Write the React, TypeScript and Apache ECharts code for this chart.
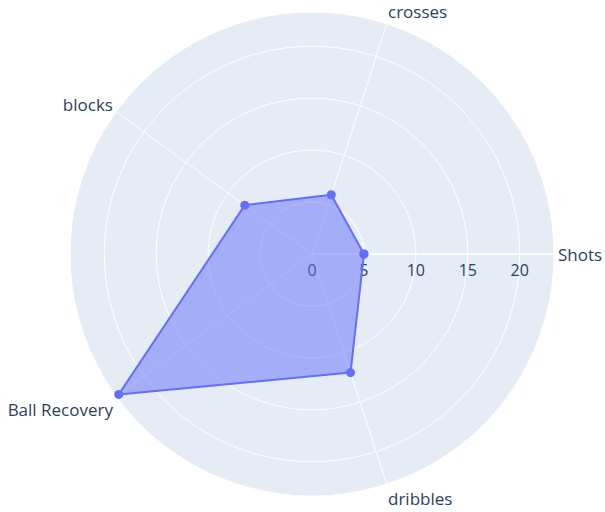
import React, { useEffect, useRef } from "react";
import * as echarts from "echarts";

const categories = ["Shots", "crosses", "blocks", "Ball Recovery", "dribbles"];
const values = [5, 6, 8, 23, 12];
const radialMax = 23.3;
const radialInterval = 5;

const CX = 312;
const CY = 254;
const R = 242;

export default function App() {
  const ref = useRef<HTMLDivElement>(null);
  useEffect(() => {
    const chart = echarts.init(ref.current!, null, { renderer: "svg" });
    const step = 360 / categories.length;
    const pts: any[] = values.map((v, i) => [v, i * step]);
    pts.push([values[0], 360]);
    const font = '"Open Sans", "Noto Sans", sans-serif';
    const pads: number[][] = [
      [0, 0, 0, 0],
      [0, 0, 0, 0],
      [0, 0, -4, 0],
      [2, 0, 0, 0],
      [2, 0, 0, 0],
    ];
    const rich: Record<string, any> = {};
    pads.forEach((p, i) => {
      rich["k" + i] = {
        padding: p,
        color: "#2a3f5f",
        fontSize: 17,
        fontFamily: font,
      };
    });
    chart.setOption({
      animation: false,
      backgroundColor: "#ffffff",
      graphic: [
        {
          type: "circle",
          z: -10,
          silent: true,
          shape: { cx: CX, cy: CY, r: R },
          style: { fill: "#E5ECF6" },
        },
      ],
      polar: { center: [CX, CY], radius: R },
      angleAxis: {
        type: "value",
        min: 0,
        max: 360,
        interval: step,
        startAngle: 0,
        clockwise: false,
        axisLine: { show: false },
        axisTick: { show: false },
        splitLine: { show: true, lineStyle: { color: "#ffffff", width: 1 } },
        axisLabel: {
          show: true,
          margin: 4,
          color: "#2a3f5f",
          fontSize: 17,
          fontFamily: font,
          rich,
          formatter: (v: number) => {
            if (v >= 360) return "";
            const i = Math.round(v / step);
            return "{k" + i + "|" + categories[i] + "}";
          },
        },
        z: 1,
      },
      radiusAxis: {
        type: "value",
        min: 0,
        max: radialMax,
        interval: radialInterval,
        axisLine: { show: true, lineStyle: { color: "#ffffff", width: 1.5 } },
        axisTick: { show: false },
        splitLine: { show: true, lineStyle: { color: "#ffffff", width: 1 } },
        axisLabel: {
          show: true,
          showMaxLabel: false,
          verticalAlign: "top",
          align: "center",
          color: "#2a3f5f",
          fontSize: 16,
          fontFamily: font,
          margin: -8,
          formatter: (v: number) => (v >= radialMax - 1 ? "" : String(v)),
        },
        z: 1,
      },
      series: [
        {
          type: "line",
          coordinateSystem: "polar",
          data: pts,
          symbol: "circle",
          symbolSize: 9,
          showSymbol: true,
          lineStyle: { color: "#636efa", width: 2 },
          itemStyle: { color: "#636efa" },
          areaStyle: { color: "rgba(99,110,250,0.5)", opacity: 1 },
          z: 3,
        },
      ],
    });
    return () => chart.dispose();
  }, []);
  return (
    <div
      ref={ref}
      style={{ position: "absolute", left: 0, top: 0, width: 605, height: 512 }}
    />
  );
}
